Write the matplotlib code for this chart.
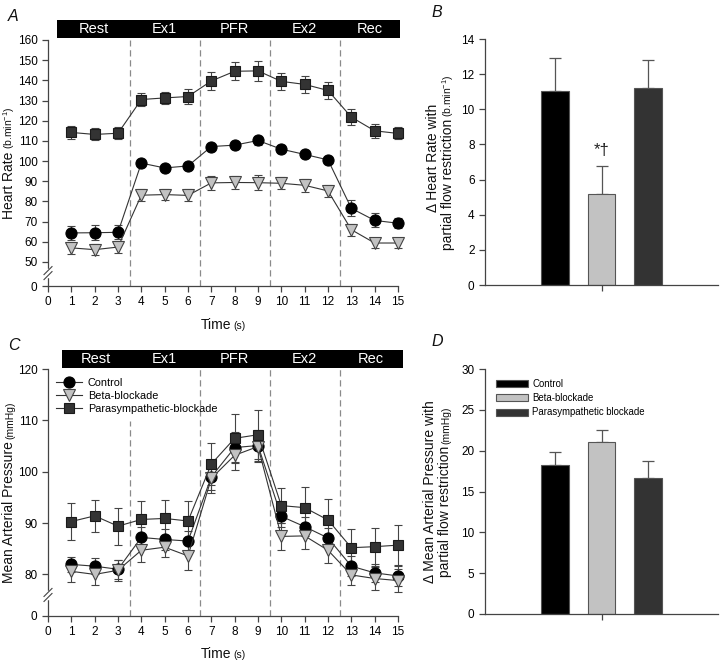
import numpy as np
import matplotlib
matplotlib.use("Agg")
import matplotlib.pyplot as plt
from matplotlib.patches import Rectangle
from matplotlib.lines import Line2D
import matplotlib.transforms as mtransforms

plt.rcParams['font.family'] = ['Liberation Sans', 'DejaVu Sans']
plt.rcParams['mathtext.fontset'] = 'custom'
plt.rcParams['mathtext.rm'] = 'Liberation Sans'
plt.rcParams['mathtext.it'] = 'Liberation Sans:italic'
plt.rcParams['mathtext.default'] = 'regular'

# ---------------- data ----------------
time_points = list(range(1, 16))
x_ticks = list(range(0, 16))
phases = ['Rest', 'Ex1', 'PFR', 'Ex2', 'Rec']
phase_bounds = [3.5, 6.5, 9.5, 12.5]
groups = ['Control', 'Beta-blockade', 'Parasympathetic-blockade']
bar_groups = ['Control', 'Beta-blockade', 'Parasympathetic blockade']

hr_control = [64.4, 64.5, 64.7, 99.0, 96.6, 97.6, 107.2, 107.9, 110.2, 105.9, 103.3, 100.6, 76.6, 70.6, 69.2]
hr_control_err = [3.5, 3.7, 3.5, 1.5, 1.5, 1.5, 1.5, 1.8, 2.2, 2.0, 1.5, 1.2, 4.0, 3.5, 2.5]
hr_beta = [57.0, 56.1, 57.4, 83.1, 83.4, 83.0, 89.2, 89.4, 89.3, 89.0, 88.0, 85.2, 66.0, 59.4, 59.4]
hr_beta_err = [3.0, 2.8, 2.8, 2.9, 2.8, 3.0, 3.3, 3.2, 3.8, 3.0, 3.2, 3.0, 3.0, 2.5, 2.5]
hr_para = [114.2, 113.2, 113.8, 130.5, 131.3, 132.0, 139.7, 144.5, 144.7, 139.5, 138.0, 135.0, 121.8, 115.0, 113.7]
hr_para_err = [3.3, 3.0, 3.0, 3.0, 3.0, 3.5, 4.3, 4.5, 5.0, 4.3, 4.3, 4.0, 4.0, 3.5, 3.0]

map_control = [81.95, 81.6, 81.0, 87.2, 86.8, 86.5, 99.0, 104.7, 105.1, 91.3, 89.3, 87.1, 81.6, 80.3, 79.7]
map_control_err = [1.5, 1.6, 1.8, 2.0, 2.0, 2.0, 2.5, 3.0, 3.0, 2.0, 1.8, 2.0, 2.0, 1.8, 2.0]
map_beta = [80.6, 80.0, 80.8, 84.7, 85.3, 83.6, 98.7, 103.2, 104.9, 87.4, 87.5, 84.7, 79.9, 79.2, 78.8]
map_beta_err = [2.0, 2.0, 2.0, 2.3, 2.0, 2.7, 2.8, 2.8, 3.0, 2.7, 2.5, 2.5, 2.0, 2.2, 2.3]
map_para = [90.3, 91.4, 89.4, 90.7, 90.9, 90.4, 101.5, 106.5, 107.2, 93.4, 93.0, 90.6, 85.2, 85.4, 85.7]
map_para_err = [3.6, 3.1, 3.6, 3.5, 3.5, 3.8, 4.0, 4.7, 4.8, 3.4, 4.0, 4.0, 3.7, 3.7, 3.9]

delta_hr = [11.05, 5.2, 11.2]
delta_hr_err = [1.85, 1.55, 1.58]
delta_map = [18.2, 21.05, 16.7]
delta_map_err = [1.6, 1.5, 2.0]

hr_yticks = [50, 60, 70, 80, 90, 100, 110, 120, 130, 140, 150, 160]
map_yticks = [80, 90, 100, 110, 120]

# ---------------- styles ----------------
W, H = 720, 662
fig = plt.figure(figsize=(W / 100, H / 100), dpi=100)

C_CTRL = '#000000'
C_BETA = '#c2c2c2'
C_PARA = '#333333'
AX_COL = '#444444'
TICK_FS = 8.5


def px_axes(left, top, right, bottom):
    return fig.add_axes([left / W, 1 - bottom / H, (right - left) / W, (bottom - top) / H])


def style_axes(ax):
    for s in ['top', 'right']:
        ax.spines[s].set_visible(False)
    for s in ['left', 'bottom']:
        ax.spines[s].set_color(AX_COL)
        ax.spines[s].set_linewidth(0.9)
    ax.tick_params(direction='out', length=4, width=0.9, color=AX_COL,
                   labelsize=TICK_FS, pad=3.5)


def mixed_text(parts, x_px, y_px, rotation=0, gap=2.0):
    """parts: list of (string, fontsize). Center the combined text at x/y (image px)."""
    renderer = fig.canvas.get_renderer()
    widths = []
    for s, fs in parts:
        t = fig.text(0, 0, s, fontsize=fs)
        widths.append(t.get_window_extent(renderer).width)
        t.remove()
    total = sum(widths) + gap * (len(parts) - 1)
    pos = 0.0
    for (s, fs), w in zip(parts, widths):
        if rotation == 0:
            xx = x_px - total / 2 + pos
            fig.text(xx / W, 1 - y_px / H, s, fontsize=fs, ha='left', va='baseline',
                     color='#111111')
        else:
            yy = y_px + total / 2 - pos
            fig.text(x_px / W, 1 - yy / H, s, fontsize=fs, ha='left', va='baseline',
                     rotation=90, rotation_mode='anchor', color='#111111')
        pos += w + gap


def header(ax, x0, x1, ybot, ytop):
    trans = mtransforms.blended_transform_factory(ax.transData, ax.transAxes)
    ax.add_patch(Rectangle((x0, ybot), x1 - x0, ytop - ybot, transform=trans,
                           facecolor='black', edgecolor='none', clip_on=False, zorder=5))
    edges = [x0] + phase_bounds + [x1]
    for i, name in enumerate(phases):
        xc = (edges[i] + edges[i + 1]) / 2
        ax.text(xc, (ybot + ytop) / 2, name, transform=trans, color='white',
                fontsize=10.5, ha='center', va='center', zorder=6)


def axis_break(ax, yval):
    x0, y0 = ax.transData.transform((ax.get_xlim()[0], yval))
    inv = fig.transFigure.inverted()
    g0 = inv.transform((x0, y0 - 3))
    g1 = inv.transform((x0, y0 + 3))
    fig.add_artist(Line2D([g0[0], g1[0]], [g0[1], g1[1]], color='white', lw=2.5, zorder=10))
    for dy in (-2.5, 2.5):
        a = inv.transform((x0 - 4, y0 + dy - 4))
        b = inv.transform((x0 + 4, y0 + dy + 4))
        fig.add_artist(Line2D([a[0], b[0]], [a[1], b[1]], color=AX_COL, lw=0.8, zorder=11))


def line_panel(ax, series, ylim, yticks, zero_pos, hdr_x, hdr_y, first_dash_top=None):
    style_axes(ax)
    ax.set_xlim(0, 15)
    ax.set_ylim(*ylim)
    ax.set_xticks(x_ticks)
    ax.set_xticklabels([str(v) for v in x_ticks])
    ax.set_yticks([zero_pos] + yticks)
    ax.set_yticklabels(['0'] + [str(v) for v in yticks])
    for i, b in enumerate(phase_bounds):
        top = 1.0
        if i == 0 and first_dash_top is not None:
            top = (first_dash_top - ylim[0]) / (ylim[1] - ylim[0])
        ax.axvline(b, ymin=0, ymax=top, color='#8a8a8a', lw=0.9, ls=(0, (5, 3)), zorder=1)
    for (vals, errs, marker, fc, ec, ms, lab) in series:
        ax.errorbar(time_points, vals, yerr=errs, fmt='none', ecolor='#444444',
                    elinewidth=0.8, capsize=3.2, capthick=0.8, zorder=2, clip_on=False)
        ax.plot(time_points, vals, color='#333333', lw=0.8, marker=marker, ms=ms,
                mfc=fc, mec=ec, mew=0.8, zorder=3, clip_on=False, label=lab)
    header(ax, hdr_x[0], hdr_x[1], hdr_y[0], hdr_y[1])


# ---------------- Panel A ----------------
axA = px_axes(48, 40, 398, 286)
serA = [
    (hr_para, hr_para_err, 's', C_PARA, '#1a1a1a', 7.5, groups[2]),
    (hr_control, hr_control_err, 'o', C_CTRL, '#000000', 8, groups[0]),
    (hr_beta, hr_beta_err, 'v', C_BETA, '#444444', 8.5, groups[1]),
]
line_panel(axA, serA, (38.1, 160), hr_yticks, 38.1, (0.4, 15.1), (1.008, 1.081))

# ---------------- Panel C ----------------
axC = px_axes(48, 369, 398, 616)
serC = [
    (map_control, map_control_err, 'o', C_CTRL, '#000000', 8, groups[0]),
    (map_beta, map_beta_err, 'v', C_BETA, '#444444', 8.5, groups[1]),
    (map_para, map_para_err, 's', C_PARA, '#1a1a1a', 7.5, groups[2]),
]
line_panel(axC, serC, (71.9, 120), map_yticks, 71.9, (0.6, 15.2), (1.004, 1.077),
           first_dash_top=109.8)
h, l = axC.get_legend_handles_labels()
axC.legend(h, l, loc='upper left', bbox_to_anchor=(0.005, 0.99), frameon=False,
           fontsize=7.8, handlelength=2.4, handletextpad=0.5, labelspacing=0.28,
           borderaxespad=0.2)


# ---------------- Bar panels ----------------
def bar_panel(ax, vals, errs, ylim, ystep):
    style_axes(ax)
    xs = [1, 2, 3]
    cols = [C_CTRL, C_BETA, C_PARA]
    bars = ax.bar(xs, vals, width=0.6, color=cols, edgecolor='#555555', linewidth=0.8,
                  zorder=2)
    ax.errorbar(xs, vals, yerr=[[0, 0, 0], errs], fmt='none', ecolor='#555555',
                elinewidth=0.9, capsize=4, capthick=0.9, zorder=1)
    ax.set_xlim(-0.5, 4.5)
    ax.set_ylim(*ylim)
    ax.set_yticks(np.arange(ylim[0], ylim[1] + 0.01, ystep))
    ax.set_xticks([2])
    ax.set_xticklabels([''])
    return bars


axB = px_axes(485, 39, 718, 285)
bar_panel(axB, delta_hr, delta_hr_err, (0, 14), 2)
axB.text(2, delta_hr[1] + delta_hr_err[1] + 0.45, '*\u2020', ha='center', va='bottom',
         fontsize=12, color='#222222', family=['Liberation Sans', 'DejaVu Sans'])

axD = px_axes(485, 369, 718, 614)
barsD = bar_panel(axD, delta_map, delta_map_err, (0, 30), 5)
axD.legend(barsD, bar_groups, loc='upper left', bbox_to_anchor=(0.01, 0.995),
           frameon=False, fontsize=6.9, handlelength=3.3, handleheight=0.75,
           handletextpad=0.5, labelspacing=0.45)

# ---------------- labels ----------------
fig.canvas.draw()
MAIN = 10
UNIT = 7.5
mixed_text([('Heart Rate', MAIN), ('(b.min$^{-1}$)', UNIT)], 13, 163, rotation=90)
mixed_text([('Mean Arterial Pressure', MAIN), ('(mmHg)', UNIT)], 13, 492, rotation=90)
mixed_text([('Time', MAIN), ('(s)', UNIT)], 223, 329)
mixed_text([('Time', MAIN), ('(s)', UNIT)], 223, 658)

mixed_text([('\u0394 Heart Rate with', MAIN)], 437, 158, rotation=90)
mixed_text([('partial flow restriction', MAIN), ('(b.min$^{-1}$)', UNIT)], 452, 162, rotation=90)
mixed_text([('\u0394 Mean Arterial Pressure with', MAIN)], 434, 492, rotation=90)
mixed_text([('partial flow restriction', MAIN), ('(mmHg)', UNIT)], 449, 492, rotation=90)

for letter, x, y in [('A', 8, 21), ('B', 432, 17), ('C', 8, 350), ('D', 432, 346)]:
    fig.text(x / W, 1 - y / H, letter, fontsize=11.5, style='italic', ha='left',
             va='baseline', color='#111111')

axis_break(axA, 44.5)
axis_break(axC, 76.0)

fig.savefig('out.png', dpi=100, facecolor='white')
